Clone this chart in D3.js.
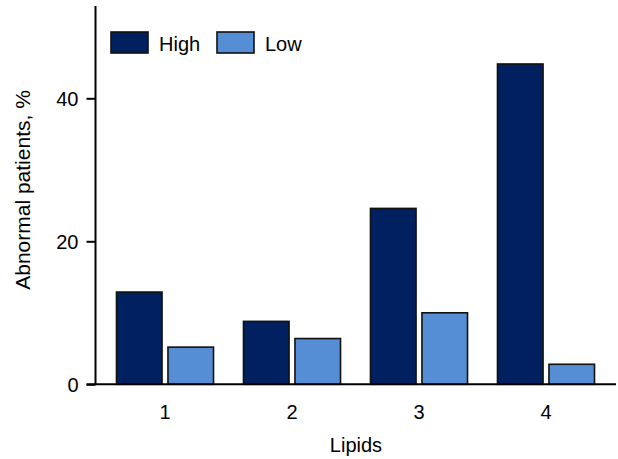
<!DOCTYPE html>
<html>
<head>
<meta charset="utf-8">
<script src="https://cdn.jsdelivr.net/npm/d3@7"></script>
<style>
  html, body { margin: 0; padding: 0; background: #fff; }
  svg { display: block; }
  text { font-family: "Liberation Sans", Arial, sans-serif; fill: #000; }
</style>
</head>
<body>
<svg id="chart" width="618" height="459"></svg>
<script>
const categories = ["1", "2", "3", "4"];
const seriesNames = ["High", "Low"];
const highValues = [12.9, 8.8, 24.6, 44.8];
const lowValues = [5.2, 6.4, 10.0, 2.8];
const yTicks = [0, 20, 40];
const colors = { High: "#002060", Low: "#558ED5" };

const svg = d3.select("#chart");
const y0 = 384.3, pxPerUnit = 7.15;
const yMax = 52.9;

const x0 = d3.scaleBand().domain(categories).range([101.5, 609.5])
  .paddingInner(0.236).paddingOuter(0.118);
const x1 = d3.scaleBand().domain(seriesNames).range([0, x0.bandwidth()]).paddingInner(0.115);
const y = d3.scaleLinear().domain([0, yMax]).range([y0, y0 - yMax * pxPerUnit]);

const data = categories.map((c, i) => ({ cat: c, High: highValues[i], Low: lowValues[i] }));

// bars
const g = svg.append("g");
data.forEach(d => {
  seriesNames.forEach(s => {
    g.append("rect")
      .attr("x", x0(d.cat) + x1(s))
      .attr("y", y(d[s]))
      .attr("width", x1.bandwidth())
      .attr("height", y(0) - y(d[s]))
      .attr("fill", colors[s])
      .attr("stroke", "#111")
      .attr("stroke-width", 1.6);
  });
});

// y axis
const yAxis = d3.axisLeft(y).tickValues(yTicks).tickSize(9).tickPadding(8).tickFormat(d3.format("d"));
const yg = svg.append("g").attr("transform", "translate(95.5,0)").call(yAxis);
yg.select(".domain").attr("d", `M0,${y(yMax)}V${y0}`).attr("stroke", "#000").attr("stroke-width", 2);
yg.selectAll(".tick line").attr("stroke", "#000").attr("stroke-width", 2);
yg.selectAll(".tick text").style("font-size", "20px").style("font-family", "Liberation Sans, Arial, sans-serif").attr("dy", "0.36em");

// x axis
const xAxis = d3.axisBottom(x0).tickSize(0).tickPadding(21);
const xg = svg.append("g").attr("transform", `translate(0,${y0})`).call(xAxis);
xg.select(".domain").attr("d", "M86.5,0H616").attr("stroke", "#000").attr("stroke-width", 2);
xg.selectAll(".tick text").style("font-size", "20px").style("font-family", "Liberation Sans, Arial, sans-serif");

// axis titles
svg.append("text")
  .attr("transform", "translate(30,190) rotate(-90)")
  .attr("text-anchor", "middle")
  .style("font-size", "21px")
  .text("Abnormal patients, %");

svg.append("text")
  .attr("x", 356).attr("y", 451.5)
  .attr("text-anchor", "middle")
  .style("font-size", "20px")
  .text("Lipids");

// legend
const legendX = [111, 217];
seriesNames.forEach((s, i) => {
  svg.append("rect")
    .attr("x", legendX[i]).attr("y", 32)
    .attr("width", 37).attr("height", 21)
    .attr("fill", colors[s]).attr("stroke", "#111").attr("stroke-width", 1.6);
  svg.append("text")
    .attr("x", legendX[i] + 48).attr("y", 51)
    .style("font-size", "20px")
    .text(s);
});
</script>
</body>
</html>
